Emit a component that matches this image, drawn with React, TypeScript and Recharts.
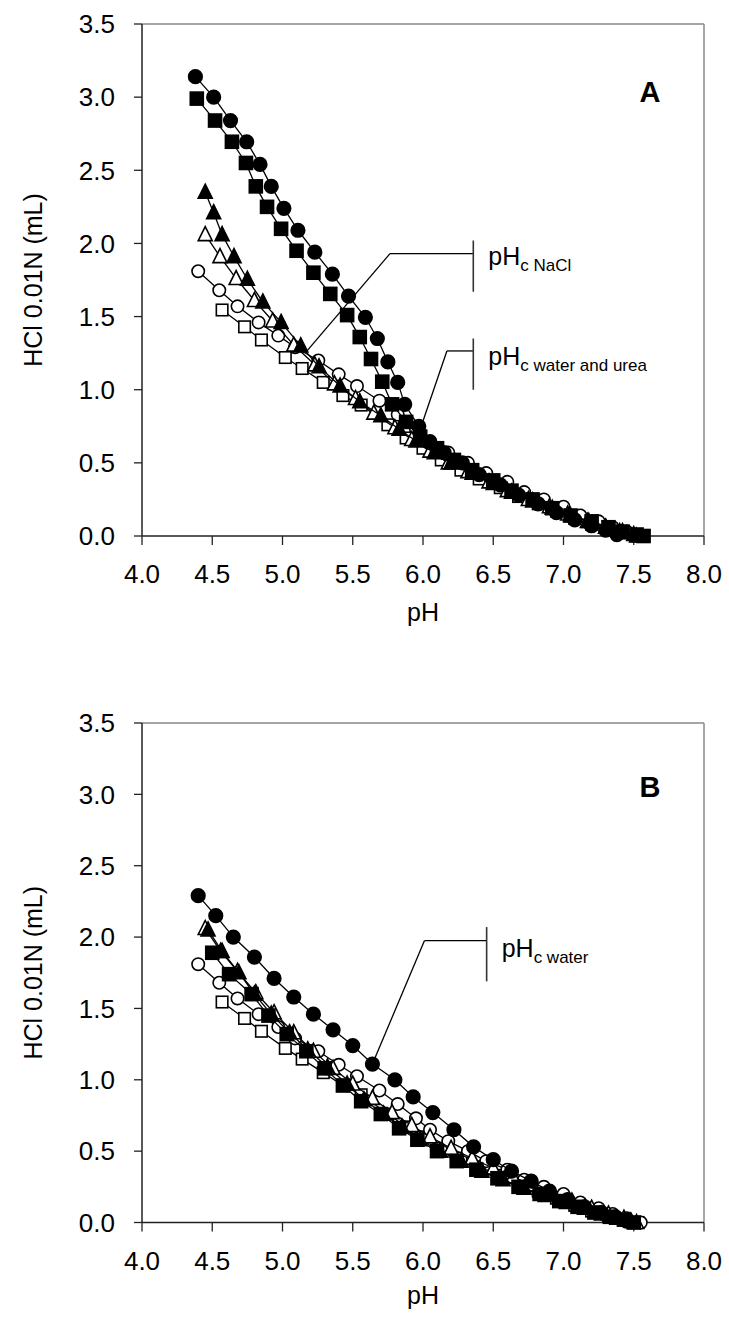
import React from 'react';
import { ScatterChart, Scatter, XAxis, YAxis, ReferenceLine, ReferenceDot } from 'recharts';

type Pair = [number, number];

const xTicks = [4.0, 4.5, 5.0, 5.5, 6.0, 6.5, 7.0, 7.5, 8.0];
const yTicks = [0.0, 0.5, 1.0, 1.5, 2.0, 2.5, 3.0, 3.5];
const xTitle = 'pH';
const yTitle = 'HCl 0.01N (mL)';

// Panel A
const aFilledCircle: Pair[] = [[4.38,3.14],[4.51,3.0],[4.63,2.84],[4.745,2.695],[4.84,2.54],[4.92,2.39],[5.01,2.24],[5.11,2.09],[5.23,1.94],[5.355,1.79],[5.47,1.64],[5.59,1.495],[5.675,1.35],[5.75,1.19],[5.82,1.05],[5.87,0.9],[5.97,0.75],[6.05,0.64],[6.15,0.57],[6.28,0.5],[6.4,0.42],[6.55,0.35],[6.68,0.28],[6.82,0.22],[6.95,0.16],[7.08,0.11],[7.2,0.07],[7.3,0.04],[7.38,0.01]];
const aFilledSquare: Pair[] = [[4.39,2.99],[4.52,2.84],[4.64,2.695],[4.74,2.55],[4.81,2.39],[4.89,2.25],[4.99,2.1],[5.1,1.95],[5.22,1.8],[5.34,1.655],[5.46,1.51],[5.55,1.36],[5.63,1.21],[5.71,1.055],[5.78,0.9],[5.88,0.78],[5.98,0.68],[6.1,0.6],[6.22,0.52],[6.35,0.45],[6.5,0.38],[6.63,0.31],[6.78,0.25],[6.92,0.19],[7.05,0.14],[7.2,0.1],[7.32,0.06],[7.42,0.03],[7.52,0.01],[7.57,0.0]];
const aFilledTriangle: Pair[] = [[4.45,2.35],[4.51,2.21],[4.57,2.06],[4.655,1.91],[4.75,1.755],[4.86,1.6],[4.99,1.46],[5.13,1.3],[5.26,1.157],[5.41,1.025],[5.55,0.918],[5.7,0.822],[5.83,0.73],[5.95,0.65],[6.08,0.57],[6.2,0.5],[6.35,0.43],[6.5,0.36],[6.63,0.3],[6.78,0.24],[6.92,0.19],[7.05,0.14],[7.18,0.1],[7.3,0.06],[7.4,0.03],[7.5,0.01]];
const aOpenTriangle: Pair[] = [[4.45,2.06],[4.555,1.91],[4.67,1.76],[4.8,1.61],[4.93,1.47],[5.08,1.305],[5.23,1.17],[5.37,1.04],[5.52,0.94],[5.65,0.84],[5.8,0.74],[5.92,0.66],[6.05,0.58],[6.18,0.5],[6.32,0.44],[6.47,0.37],[6.6,0.31],[6.75,0.25],[6.9,0.2],[7.03,0.15],[7.17,0.1],[7.3,0.06],[7.42,0.03],[7.52,0.0]];
const aOpenCircle: Pair[] = [[4.4,1.81],[4.55,1.68],[4.68,1.57],[4.83,1.46],[4.97,1.37],[5.09,1.29],[5.255,1.2],[5.4,1.105],[5.53,1.025],[5.69,0.925],[5.82,0.83],[5.95,0.73],[6.05,0.65],[6.18,0.57],[6.32,0.5],[6.45,0.43],[6.6,0.37],[6.72,0.3],[6.86,0.25],[7.0,0.2],[7.12,0.14],[7.25,0.1],[7.35,0.06],[7.45,0.03],[7.55,0.0]];
const aOpenSquare: Pair[] = [[4.57,1.545],[4.73,1.43],[4.85,1.34],[5.02,1.22],[5.14,1.145],[5.29,1.05],[5.43,0.96],[5.56,0.895],[5.75,0.76],[5.88,0.67],[6.0,0.6],[6.13,0.52],[6.27,0.45],[6.4,0.39],[6.55,0.33],[6.68,0.27],[6.82,0.22],[6.95,0.17],[7.08,0.12],[7.2,0.08],[7.32,0.05],[7.43,0.02],[7.53,0.0]];

// Panel B
const bFilledCircle: Pair[] = [[4.4,2.29],[4.525,2.15],[4.65,2.0],[4.8,1.86],[4.94,1.71],[5.08,1.58],[5.22,1.46],[5.36,1.35],[5.5,1.24],[5.64,1.11],[5.8,1.0],[5.93,0.88],[6.07,0.77],[6.22,0.65],[6.36,0.53],[6.5,0.44],[6.63,0.36],[6.77,0.29],[6.9,0.22],[7.03,0.16],[7.15,0.11],[7.27,0.07],[7.37,0.04],[7.45,0.01]];
const bFilledSquare: Pair[] = [[4.5,1.89],[4.62,1.74],[4.78,1.6],[4.9,1.45],[5.03,1.32],[5.17,1.2],[5.3,1.08],[5.43,0.96],[5.56,0.85],[5.7,0.76],[5.83,0.66],[5.96,0.58],[6.1,0.5],[6.24,0.43],[6.38,0.37],[6.53,0.31],[6.68,0.25],[6.83,0.2],[6.97,0.15],[7.1,0.11],[7.22,0.07],[7.33,0.04],[7.43,0.02],[7.5,0.0]];
const bFilledTriangle: Pair[] = [[4.47,2.05],[4.57,1.9],[4.69,1.75],[4.8,1.6],[4.92,1.46],[5.05,1.33],[5.18,1.21],[5.32,1.09],[5.46,0.97],[5.58,0.86],[5.72,0.76],[5.85,0.67],[5.98,0.58],[6.12,0.5],[6.27,0.43],[6.42,0.36],[6.57,0.3],[6.72,0.24],[6.87,0.19],[7.02,0.14],[7.15,0.1],[7.27,0.06],[7.38,0.03],[7.48,0.01]];
const bOpenTriangle: Pair[] = [[4.45,2.06],[4.56,1.9],[4.68,1.76],[4.81,1.61],[4.94,1.47],[5.08,1.33],[5.22,1.2],[5.36,1.08],[5.5,0.97],[5.64,0.87],[5.78,0.77],[5.92,0.68],[6.05,0.6],[6.2,0.52],[6.35,0.45],[6.5,0.38],[6.64,0.32],[6.78,0.26],[6.92,0.2],[7.06,0.15],[7.2,0.1],[7.32,0.06],[7.43,0.03],[7.52,0.0]];
const bOpenCircle: Pair[] = aOpenCircle;
const bOpenSquare: Pair[] = aOpenSquare;

// annotations (data coordinates)
const aNaClLine: Pair[] = [[5.17,1.26],[5.765,1.93],[6.358,1.93]];
const aNaClBar: Pair[] = [[6.358,2.02],[6.358,1.67]];
const aNaClText = { x: 6.465, y: 1.85, main: 'pH', sub: 'c NaCl' };
const aUreaLine: Pair[] = [[5.98,0.73],[6.17,1.265],[6.358,1.265]];
const aUreaBar: Pair[] = [[6.358,1.35],[6.358,1.0]];
const aUreaText = { x: 6.465, y: 1.17, main: 'pH', sub: 'c water and urea' };
const bWaterLine: Pair[] = [[5.64,1.11],[6.01,1.975],[6.453,1.975]];
const bWaterBar: Pair[] = [[6.453,2.07],[6.453,1.69]];
const bWaterText = { x: 6.56, y: 1.86, main: 'pH', sub: 'c water' };
const aPanel = { x: 7.615, y: 2.97, text: 'A' };
const bPanel = { x: 7.615, y: 2.98, text: 'B' };

const FONT = '"Liberation Sans", Arial, Helvetica, sans-serif';

const toPts = (d: Pair[]) => d.map(([x, y]) => ({ x, y }));

const makeShape = (kind: string, filled: boolean) => (props: any) => {
  const { cx, cy } = props;
  if (cx == null || cy == null) return <g />;
  const fill = filled ? '#000' : '#fff';
  if (kind === 'circle') {
    return <circle cx={cx} cy={cy} r={filled ? 6.8 : 6.2} fill={fill} stroke="#000" strokeWidth={1.6} />;
  }
  if (kind === 'square') {
    const s = filled ? 13 : 11.5;
    return <rect x={cx - s / 2} y={cy - s / 2} width={s} height={s} fill={fill} stroke="#000" strokeWidth={1.6} />;
  }
  const h = 7;
  return (
    <polygon
      points={`${cx},${cy - h - 1} ${cx + h},${cy + h - 1} ${cx - h},${cy + h - 1}`}
      fill={fill}
      stroke="#000"
      strokeWidth={1.6}
    />
  );
};

const segs = (pts: Pair[]) => {
  const out: any[] = [];
  for (let i = 0; i < pts.length - 1; i++) {
    out.push([{ x: pts[i][0], y: pts[i][1] }, { x: pts[i + 1][0], y: pts[i + 1][1] }]);
  }
  return out;
};

const SubText = (t: { x: number; y: number; main: string; sub: string }, key: string) => (
  <ReferenceDot
    key={key}
    x={t.x}
    y={t.y}
    r={0}
    shape={(p: any) => (
      <text x={p.cx} y={p.cy} fontFamily={FONT} fontSize={25} fill="#000">
        <tspan>{t.main}</tspan>
        <tspan fontSize={17} dy={6}>{t.sub}</tspan>
      </text>
    )}
  />
);

const PanelLetter = (t: { x: number; y: number; text: string }) => (
  <ReferenceDot
    x={t.x}
    y={t.y}
    r={0}
    shape={(p: any) => (
      <text x={p.cx} y={p.cy} fontFamily={FONT} fontSize={29} fontWeight="bold" textAnchor="middle" fill="#000">
        {t.text}
      </text>
    )}
  />
);

const YTitle = (props: any) => {
  const vb = props.viewBox || {};
  const cy = (vb.y || 0) + (vb.height || 0) / 2;
  const x = 42;
  return (
    <text x={x} y={cy} transform={`rotate(-90, ${x}, ${cy})`} textAnchor="middle" fontFamily={FONT} fontSize={25} fill="#000">
      {yTitle}
    </text>
  );
};

const tickStyle = { fontSize: 26, fill: '#000', fontFamily: FONT };

type Series = { data: Pair[]; kind: string; filled: boolean; name: string };

const Panel = (props: {
  series: Series[];
  height: number;
  margin: any;
  titleOffset: number;
  children?: React.ReactNode;
}) => (
  <ScatterChart width={729} height={props.height} margin={props.margin}>
    <XAxis
      type="number"
      dataKey="x"
      domain={[4, 8]}
      ticks={xTicks}
      tickFormatter={(v: number) => v.toFixed(1)}
      height={100}
      tickSize={9}
      tickMargin={20}
      tick={tickStyle}
      axisLine={{ stroke: '#222', strokeWidth: 1.5 }}
      tickLine={{ stroke: '#222', strokeWidth: 1.3 }}
      label={{ value: xTitle, position: 'insideBottom', offset: props.titleOffset, style: { fontSize: 25, fill: '#000', fontFamily: FONT } }}
      interval={0}
    />
    <YAxis
      type="number"
      dataKey="y"
      domain={[0, 3.5]}
      ticks={yTicks}
      tickFormatter={(v: number) => v.toFixed(1)}
      width={142}
      tickSize={8}
      tickMargin={19}
      tick={tickStyle}
      axisLine={{ stroke: '#222', strokeWidth: 1.5 }}
      tickLine={{ stroke: '#222', strokeWidth: 1.3 }}
      label={<YTitle />}
      interval={0}
    />
    <ReferenceLine y={3.5} stroke="#888" strokeWidth={1.5} />
    <ReferenceLine x={8} stroke="#888" strokeWidth={1.5} />
    {props.series.map((s) => (
      <Scatter
        key={s.name}
        name={s.name}
        data={toPts(s.data)}
        line={{ stroke: '#000', strokeWidth: 1.3 }}
        lineType="joint"
        shape={makeShape(s.kind, s.filled)}
        isAnimationActive={false}
      />
    ))}
    {props.children}
  </ScatterChart>
);

const seriesA: Series[] = [
  { name: 'aOpenSquare', data: aOpenSquare, kind: 'square', filled: false },
  { name: 'aOpenCircle', data: aOpenCircle, kind: 'circle', filled: false },
  { name: 'aOpenTriangle', data: aOpenTriangle, kind: 'triangle', filled: false },
  { name: 'aFilledTriangle', data: aFilledTriangle, kind: 'triangle', filled: true },
  { name: 'aFilledSquare', data: aFilledSquare, kind: 'square', filled: true },
  { name: 'aFilledCircle', data: aFilledCircle, kind: 'circle', filled: true },
];
const seriesB: Series[] = [
  { name: 'bOpenSquare', data: bOpenSquare, kind: 'square', filled: false },
  { name: 'bOpenCircle', data: bOpenCircle, kind: 'circle', filled: false },
  { name: 'bOpenTriangle', data: bOpenTriangle, kind: 'triangle', filled: false },
  { name: 'bFilledTriangle', data: bFilledTriangle, kind: 'triangle', filled: true },
  { name: 'bFilledSquare', data: bFilledSquare, kind: 'square', filled: true },
  { name: 'bFilledCircle', data: bFilledCircle, kind: 'circle', filled: true },
];

const annot = (line: Pair[], bar: Pair[], prefix: string) => [
  ...segs(line).map((sg, i) => (
    <ReferenceLine key={`${prefix}l${i}`} segment={sg} stroke="#000" strokeWidth={1.3} />
  )),
  ...segs(bar).map((sg, i) => (
    <ReferenceLine key={`${prefix}b${i}`} segment={sg} stroke="#333" strokeWidth={1.6} />
  )),
];

export default function App() {
  return (
    <div style={{ position: 'absolute', left: 0, top: 0, width: 729, height: 1327, background: '#fff' }}>
      <div style={{ position: 'absolute', left: 0, top: 0 }}>
        <Panel series={seriesA} height={660} margin={{ top: 24, right: 25, left: 0, bottom: 24 }} titleOffset={15}>
          {annot(aNaClLine, aNaClBar, 'n')}
          {annot(aUreaLine, aUreaBar, 'u')}
          {SubText(aNaClText, 'tn')}
          {SubText(aUreaText, 'tu')}
          {PanelLetter(aPanel)}
        </Panel>
      </div>
      <div style={{ position: 'absolute', left: 0, top: 660 }}>
        <Panel series={seriesB} height={667} margin={{ top: 63, right: 25, left: 0, bottom: 4.5 }} titleOffset={19}>
          {annot(bWaterLine, bWaterBar, 'w')}
          {SubText(bWaterText, 'tw')}
          {PanelLetter(bPanel)}
        </Panel>
      </div>
    </div>
  );
}
